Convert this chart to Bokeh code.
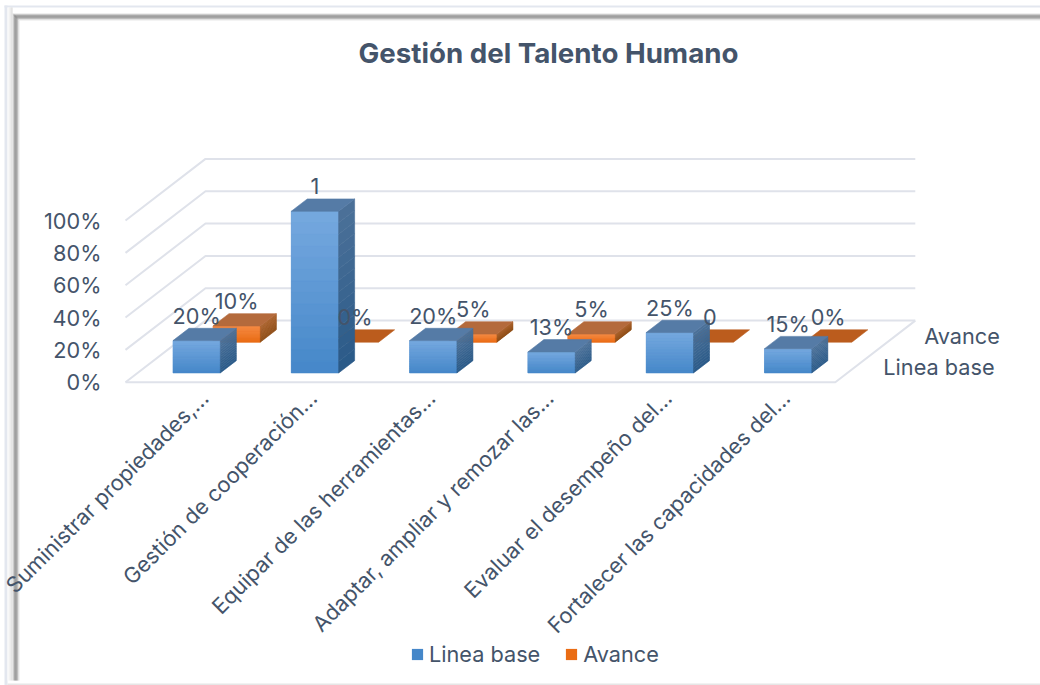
from bokeh.plotting import figure
from bokeh.models import (Range1d, LinearAxis, FixedTicker, NumeralTickFormatter, Legend, LegendItem,
                          BoxAnnotation, Label)
from bokeh.core.properties import value
from bokeh.embed import file_html
from bokeh.resources import INLINE

title = "Gestión del Talento Humano"
categories = ["Suministrar propiedades,...", "Gestión de cooperación...", "Equipar de las herramientas...",
              "Adaptar, ampliar y remozar las...", "Evaluar el desempeño del...", "Fortalecer las capacidades del..."]
series_names = ["Linea base", "Avance"]
linea_base = [0.20, 1.00, 0.20, 0.13, 0.25, 0.15]
avance = [0.10, 0.00, 0.05, 0.05, 0.00, 0.00]
linea_base_labels = ["20%", "1", "20%", "13%", "25%", "15%"]
avance_labels = ["10%", "0%", "5%", "5%", "0", "0%"]
value_ticks = [0.0, 0.2, 0.4, 0.6, 0.8, 1.0]

FONT = "Inter"
FSIZE = "21.7px"
INK = "#44546A"
W, H = 1040, 685
PX_X, PX_Y = 118.3, 161.7
X0, Y0 = 125.0, 381.7
DX, DY = 40 / PX_X, 30.8 / PX_Y    # one series slot of depth, in data units
BAR_W = 0.4
BAR_D = 0.4
PAD_D = 0.3


def proj(c, d, v):
    return c + d * DX, v + d * DY


def hex2(c):
    return [int(c[i:i + 2], 16) for i in (1, 3, 5)]


def mix(a, b, t):
    a, b = hex2(a), hex2(b)
    return "#%02x%02x%02x" % tuple(round(a[i] + (b[i] - a[i]) * t) for i in range(3))


x_lo, x_hi = -X0 / PX_X - 0.5, (W - X0) / PX_X - 0.5
p = figure(width=W, height=H, output_backend="svg", toolbar_location=None,
           x_range=Range1d(x_lo, x_hi),
           y_range=Range1d((Y0 - H) / PX_Y, Y0 / PX_Y),
           x_axis_type=None, y_axis_type=None, min_border=0,
           min_border_left=0, min_border_right=0, min_border_top=0, min_border_bottom=0,
           background_fill_color="white", outline_line_color=None)
p.grid.visible = False
# the category axis labels sit a little right of the bar centres
label_shift = 10 / PX_X
p.extra_x_ranges["cat"] = Range1d(x_lo - label_shift, x_hi - label_shift)


def box(x0, x1, y0, y1, col):
    p.add_layout(BoxAnnotation(left=x0, right=x1, top=H - y0, bottom=H - y1, left_units="screen", right_units="screen",
                               top_units="screen", bottom_units="screen", fill_color=col, fill_alpha=1,
                               line_color=None, level="underlay"))


# frame of the picture
box(4, 7, 5, H, "#e3e7ef")
box(4, W, 5, 7, "#e3e7ef")
box(7, W, 683, 685, "#e6e6e6")
for i, col in enumerate(["#fafafa", "#f4f4f4", "#ececec", "#e4e4e4", "#d8d8d8"]):
    box(7 + i, 8 + i, 7, 680, col)
for i, col in enumerate(["#e0e0e0", "#a8a8a8", "#808080", "#808080", "#8c8c8c", "#b4b4b4", "#e8e8e8"]):
    box(12 + i, 13 + i, 13 + i, 680, col)
    box(12 + i, W, 13 + i, 14 + i, col)

# walls and floor
n = len(categories)
left, right = -0.5, n - 0.5
xs, ys = [], []
for t in value_ticks:
    a, b, c = proj(left, 0, t), proj(left, 2, t), proj(right, 2, t)
    xs.append([a[0], b[0], c[0]])
    ys.append([a[1], b[1], c[1]])
a, b, c = proj(left, 0, 0), proj(right, 0, 0), proj(right, 2, 0)
xs.append([a[0], b[0], c[0]])
ys.append([a[1], b[1], c[1]])
p.multi_line(xs, ys, line_color="#dfe2ea", line_width=2)

styles = [
    dict(front=("#76a9df", "#4587c9"), side=("#4c7199", "#2a5a88"), top="#557ba6", zero="#557ba6"),
    dict(front=("#f58b45", "#ea6c14"), side=("#a9602a", "#8c4a12"), top="#b46a3c", zero="#bb5c1d"),
]
series = [linea_base, avance]
texts = [linea_base_labels, avance_labels]
legend_items = []
STRIPS = 14

for s in (1, 0):
    st = styles[s]
    d0, d1 = s + PAD_D, s + PAD_D + BAR_D
    base_xs, base_ys = [], []
    fx, fy, fc, tx, ty, tc = [], [], [], [], [], []
    for i, v in enumerate(series[s]):
        c0, c1 = i - BAR_W / 2, i + BAR_W / 2
        b0, b1 = proj(c0, d0, 0), proj(c1, d0, v)
        base_xs.append([b0[0], b1[0], b1[0], b0[0]])
        base_ys.append([b0[1], b0[1], b1[1], b1[1]])
        if v > 0:
            for k in range(STRIPS):
                v0, v1 = v * k / STRIPS, v * (k + 1) / STRIPS
                t = (k + 0.5) / STRIPS
                a0, a1 = proj(c0, d0, v0), proj(c1, d0, v1)
                fx.append([a0[0], a1[0], a1[0], a0[0]])
                fy.append([a0[1], a0[1], a1[1], a1[1]])
                fc.append(mix(st["front"][1], st["front"][0], t))
                e0, e1 = proj(c1, d0, v0), proj(c1, d1, v0)
                e2, e3 = proj(c1, d1, v1), proj(c1, d0, v1)
                fx.append([e0[0], e1[0], e2[0], e3[0]])
                fy.append([e0[1], e1[1], e2[1], e3[1]])
                fc.append(mix(st["side"][1], st["side"][0], t))
        q = [proj(c0, d0, v), proj(c1, d0, v), proj(c1, d1, v), proj(c0, d1, v)]
        tx.append([pt[0] for pt in q])
        ty.append([pt[1] for pt in q])
        tc.append(st["top"] if v > 0 else st["zero"])
    base = p.patches(base_xs, base_ys, fill_color=st["front"][1], line_color=None)
    if fx:
        p.patches(fx, fy, fill_color=fc, line_color=fc, line_width=0.6)
    p.patches(tx, ty, fill_color=tc, line_color=tc, line_width=0.6)
    legend_items.insert(0, LegendItem(label=series_names[s], renderers=[base]))

# data labels, drawn last so they sit above the bars
for s in (1, 0):
    lx, ly = [], []
    for i, v in enumerate(series[s]):
        x_, y_ = proj(i, s + PAD_D, v)
        lx.append(x_)
        ly.append(y_)
    p.text(lx, ly, text=texts[s], text_font=value(FONT), text_font_size=FSIZE, text_color=INK,
           text_align="center", text_baseline="middle", y_offset=-25)

# series (depth) axis names
dx_, dy_ = proj(right, 0.5, 0), proj(right, 1.5, 0)
p.text([dx_[0], dy_[0]], [dx_[1], dy_[1]], text=series_names, text_font=value(FONT), text_font_size=FSIZE,
       text_color=INK, text_align="left", text_baseline="middle", x_offset=[28, 29], y_offset=[0, 0])

# value axis
ya = LinearAxis(ticker=FixedTicker(ticks=value_ticks), formatter=NumeralTickFormatter(format="0%"),
                fixed_location=left, axis_line_color=None, major_tick_line_color=None, minor_tick_line_color=None,
                major_label_text_font=FONT, major_label_text_font_size=FSIZE, major_label_text_color=INK,
                major_label_standoff=18)
p.add_layout(ya, "left")

# category axis
xa = LinearAxis(x_range_name="cat", ticker=FixedTicker(ticks=list(range(n))),
                major_label_overrides={i: c for i, c in enumerate(categories)},
                fixed_location=0, axis_line_color=None, major_tick_line_color=None, minor_tick_line_color=None,
                major_label_orientation=0.785, major_label_text_font=FONT, major_label_text_font_size=FSIZE,
                major_label_text_color=INK, major_label_standoff=6)
p.add_layout(xa, "below")

p.add_layout(Label(x=548, y=H - 52, x_units="screen", y_units="screen", text=title, text_font=FONT,
                   text_font_size="27.7px", text_font_style="bold", text_color=INK, text_align="center",
                   text_baseline="middle"))

legend = Legend(items=legend_items, orientation="horizontal", location=(410, 18), background_fill_alpha=0,
                border_line_color=None, padding=0, margin=0, spacing=24, glyph_width=14, glyph_height=14,
                label_standoff=5, label_text_font=FONT, label_text_font_size=FSIZE, label_text_color=INK)
p.add_layout(legend, "center")

open("out.html", "w").write(file_html(p, INLINE))
